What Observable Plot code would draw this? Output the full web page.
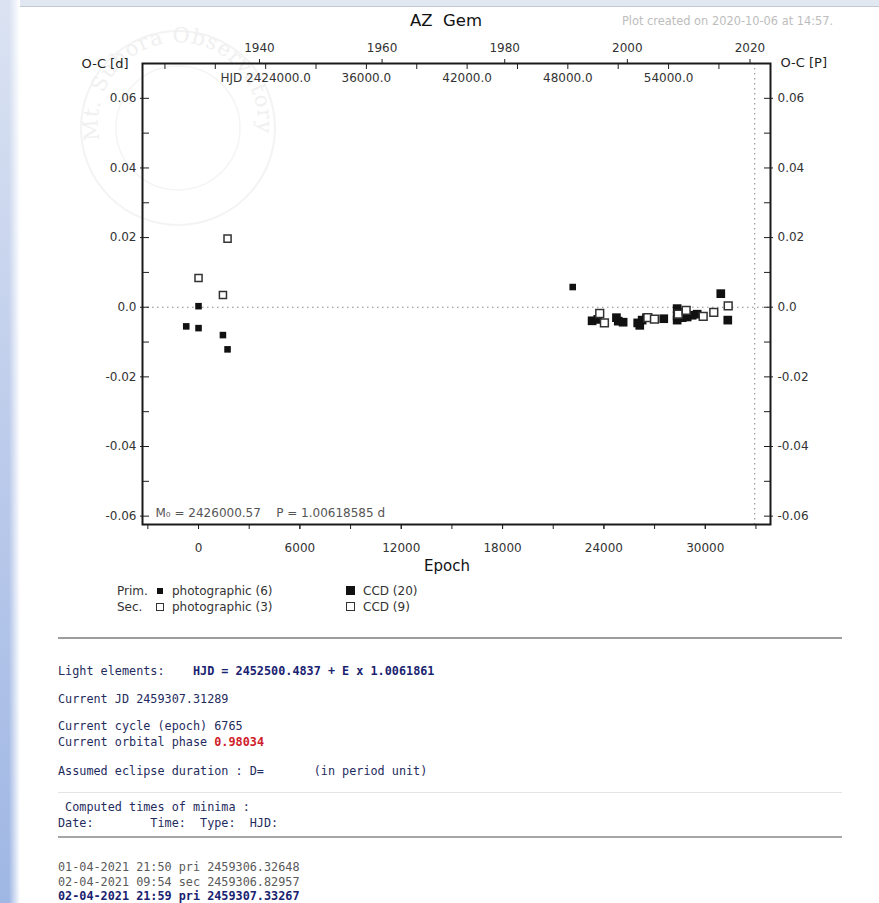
<!DOCTYPE html>
<html>
<head>
<meta charset="utf-8">
<script src="https://cdn.jsdelivr.net/npm/d3@7"></script>
<script src="https://cdn.jsdelivr.net/npm/@observablehq/plot@0.6"></script>
<style>
  html, body { margin: 0; padding: 0; }
  body { width: 879px; height: 903px; overflow: hidden; position: relative; background: #fff; font-family: "DejaVu Sans", sans-serif; }
  .abs { position: absolute; }
  #topbar { left: 0; top: 0; width: 879px; height: 6px; background: #e2e8f1; border-bottom: 1px solid #c3c9d2; }
  #leftbar { left: 0; top: 0; width: 20px; height: 903px;
    background: linear-gradient(to right, rgba(255,255,255,0) 0px, rgba(255,255,255,0) 9px, #fff 20px),
                linear-gradient(to bottom, #dbe3f2 0%, #bccbeb 50%, #9fb7e4 100%); }
  #chart { left: 0; top: 0; }
  .title { left: 0; width: 892px; text-align: center; top: 12px; font-size: 16.5px; line-height: 17px; color: #111; white-space: pre; }
  .created { left: 622px; top: 15px; font-size: 11.4px; line-height: 12px; color: #bdbdbd; white-space: pre; }
  .epoch { left: 0; width: 894px; text-align: center; top: 558px; font-size: 15px; line-height: 16px; color: #111; }
  .leg { font-size: 12px; line-height: 13px; color: #333; white-space: pre; }
  .sq { position: absolute; box-sizing: border-box; }
  .mono { left: 58px; font-family: "DejaVu Sans Mono", monospace; font-size: 11.8px; line-height: 14px; color: #1f2c5e; white-space: pre; }
  .nv { color: #1a2370; font-weight: bold; }
  .red { color: #d0202a; font-weight: bold; }
  .gray { color: #5a5a5a; }
  .hr { left: 58px; width: 784px; }
</style>
</head>
<body>
<div id="topbar" class="abs"></div>
<div id="leftbar" class="abs"></div>

<svg class="abs" style="left:68px;top:18px;overflow:visible" width="220" height="220" viewBox="0 0 220 220">
  <defs><path id="wmArc" d="M 32,122 A 80,80 0 1,1 188,122"/></defs>
  <circle cx="110" cy="110" r="97" fill="none" stroke="#f3f3f3" stroke-width="2"/>
  <circle cx="110" cy="110" r="62" fill="none" stroke="#f4f4f4" stroke-width="1.5"/>
  <text font-family="DejaVu Serif, serif" font-size="21" fill="#f0f0f0" letter-spacing="1"><textPath href="#wmArc">Mt. Suhora Observatory</textPath></text>
</svg>

<div id="chart" class="abs"></div>

<div class="abs title">AZ  Gem</div>
<div class="abs created">Plot created on 2020-10-06 at 14:57.</div>
<div class="abs epoch">Epoch</div>

<div class="abs leg" style="left:117px;top:585px">Prim.</div>
<div class="sq" style="left:157px;top:588px;width:6px;height:6px;background:#111"></div>
<div class="abs leg" style="left:172px;top:585px">photographic (6)</div>
<div class="sq" style="left:346px;top:586px;width:9px;height:9px;background:#111"></div>
<div class="abs leg" style="left:363px;top:585px">CCD (20)</div>
<div class="abs leg" style="left:117px;top:601px">Sec.</div>
<div class="sq" style="left:156px;top:603px;width:8px;height:8px;border:1.5px solid #333;background:#fff"></div>
<div class="abs leg" style="left:172px;top:601px">photographic (3)</div>
<div class="sq" style="left:346px;top:602px;width:9px;height:9px;border:1.5px solid #333;background:#fff"></div>
<div class="abs leg" style="left:363px;top:601px">CCD (9)</div>

<div class="abs hr" style="top:637px;height:2px;background:#9d9d9d"></div>
<div class="abs mono" style="top:664px">Light elements:    <span class="nv">HJD = 2452500.4837 + E x 1.0061861</span></div>
<div class="abs mono" style="top:692px">Current JD 2459307.31289</div>
<div class="abs mono" style="top:719px">Current cycle (epoch) 6765</div>
<div class="abs mono" style="top:735px">Current orbital phase <span class="red">0.98034</span></div>
<div class="abs mono" style="top:764px">Assumed eclipse duration : D=       (in period unit)</div>
<div class="abs hr" style="top:792px;height:1px;background:#e4e4e4"></div>
<div class="abs mono" style="top:800px"> Computed times of minima :</div>
<div class="abs mono" style="top:816px">Date:        Time:  Type:  HJD:</div>
<div class="abs hr" style="top:836px;height:2px;background:#a5a5a5"></div>
<div class="abs mono gray" style="top:861px;line-height:13px">01-04-2021 21:50 pri 2459306.32648</div>
<div class="abs mono gray" style="top:876px;line-height:13px">02-04-2021 09:54 sec 2459306.82957</div>
<div class="abs mono nv" style="top:890px;line-height:12px">02-04-2021 21:59 pri 2459307.33267</div>

<script>
// ---- data ----
const M0 = 2426000.57;
const P = 1.00618585;

const primPhotoEpoch = [-728, 0, 0, 1445, 1718, 22152];
const primPhotoOC    = [-0.0055, 0.0003, -0.0060, -0.0080, -0.0121, 0.0058];

const secPhotoEpoch  = [0, 1445, 1718];
const secPhotoOC     = [0.0084, 0.0035, 0.0197];

const primCcdEpoch = [23301, 23633, 24741, 24850, 25137, 26000, 26121, 26263, 26518, 27543,
                      28336, 28336, 28336, 28500, 28632, 28928, 29225, 29521, 30919, 31333];
const primCcdOC    = [-0.0039, -0.0035, -0.0030, -0.0040, -0.0043, -0.0045, -0.0052, -0.0037, -0.0030, -0.0033,
                      -0.0004, -0.0037, -0.0025, -0.0015, -0.0030, -0.0028, -0.0023, -0.0020, 0.0039, -0.0037];

const secCcdEpoch = [23752, 24030, 26600, 26992, 28400, 28869, 29876, 30504, 31357];
const secCcdOC    = [-0.0018, -0.0045, -0.0030, -0.0034, -0.0020, -0.0009, -0.0026, -0.0015, 0.0004];

// ---- ticks / labels ----
const yMajor  = [-0.06, -0.04, -0.02, 0, 0.02, 0.04, 0.06];
const yLabels = ["-0.06", "-0.04", "-0.02", "0.0", "0.02", "0.04", "0.06"];
const yMinor  = [-0.05, -0.03, -0.01, 0.01, 0.03, 0.05];
const epochMajor = [0, 6000, 12000, 18000, 24000, 30000];
const epochMinor = [-3000, 3000, 9000, 15000, 21000, 27000, 33000];
const years = [1940, 1960, 1980, 2000, 2020];
const hjdLabelValues = [2430000, 2436000, 2442000, 2448000, 2454000];
const hjdLabels = ["HJD 2424000.0", "36000.0", "42000.0", "48000.0", "54000.0"];
const hjdTickValues = [2424000, 2427000, 2430000, 2433000, 2436000, 2439000, 2442000, 2445000, 2448000, 2451000, 2454000, 2457000];
const plotCreatedJD = 2459128.6;
const xDomain = [-3317, 33862];
const yDomain = [-0.0624, 0.0700];

// ---- derived ----
const toRows = (E, O) => E.map((e, i) => ({epoch: e, oc: O[i]}));
const primPhoto = toRows(primPhotoEpoch, primPhotoOC);
const secPhoto = toRows(secPhotoEpoch, secPhotoOC);
const primCcd = toRows(primCcdEpoch, primCcdOC);
const secCcd = toRows(secCcdEpoch, secCcdOC);

const jdToEpoch = jd => (jd - M0) / P;
const yearToEpoch = y => jdToEpoch(2451545.0 + (y - 2000) * 365.25);
const yLabelMap = new Map(yMajor.map((v, i) => [v, yLabels[i]]));
const yearEpochs = years.map(yearToEpoch);
const yearMap = new Map(yearEpochs.map((e, i) => [e, String(years[i])]));
const hjdLabelEpochs = hjdLabelValues.map(jdToEpoch);
const hjdMap = new Map(hjdLabelEpochs.map((e, i) => [e, hjdLabels[i]]));
const hjdTickEpochs = hjdTickValues.map(jdToEpoch);
const fmtInt = d3.format("d");

const tickStroke = "#1e1e1e";
const labelFill = "#333";

const chart = Plot.plot({
  width: 879,
  height: 620,
  marginLeft: 142,
  marginRight: 109,
  marginTop: 63,
  marginBottom: 96,
  x: {domain: xDomain},
  y: {domain: yDomain},
  style: {fontFamily: "DejaVu Sans", fontSize: "12px", color: "#222", background: "transparent", overflow: "visible"},
  marks: [
    Plot.ruleY([0], {stroke: "#8a8a8a", strokeWidth: 1.2, strokeDasharray: "1.5,3.5"}),
    Plot.ruleX([jdToEpoch(plotCreatedJD)], {stroke: "#9a9a9a", strokeWidth: 1.2, strokeDasharray: "1.5,3.5"}),

    // left axis
    Plot.axisY(yMajor, {anchor: "left", tickSize: 2, tickPadding: 4, tickFormat: d => yLabelMap.get(d), label: null, stroke: tickStroke, fill: labelFill, fontSize: 12}),
    Plot.axisY(yMajor.concat(yMinor), {anchor: "left", tickSize: -7, label: null, stroke: tickStroke, fill: "none"}),
    // right axis
    Plot.axisY(yMajor, {anchor: "right", tickSize: 2, tickPadding: 5, tickFormat: d => yLabelMap.get(d), label: null, stroke: tickStroke, fill: labelFill, fontSize: 12}),
    Plot.axisY(yMajor.concat(yMinor), {anchor: "right", tickSize: -7, label: null, stroke: tickStroke, fill: "none"}),
    // bottom axis
    Plot.axisX(epochMajor.concat(epochMinor), {anchor: "bottom", tickSize: 5, label: null, stroke: tickStroke, fill: "none"}),
    Plot.axisX(epochMajor, {anchor: "bottom", tickSize: 5, tickPadding: 14, tickFormat: d => fmtInt(d), label: null, stroke: tickStroke, fill: labelFill, fontSize: 12}),
    // top: years (outside)
    Plot.axisX(yearEpochs, {anchor: "top", tickSize: 5, tickPadding: 7, tickFormat: d => yearMap.get(d), label: null, stroke: tickStroke, fill: labelFill, fontSize: 12}),
    // top: HJD ticks and labels (inside)
    Plot.axisX(hjdTickEpochs, {anchor: "top", tickSize: -5, label: null, stroke: tickStroke, fill: "none"}),
    Plot.axisX(hjdLabelEpochs, {anchor: "top", tickSize: 0, tickPadding: -18, tickFormat: d => hjdMap.get(d), label: null, fill: labelFill, fontSize: 12}),

    Plot.frame({stroke: "#1a1a1a", strokeWidth: 2}),

    // axis titles and elements note
    Plot.text(["O-C [d]"], {frameAnchor: "top-left", dx: -14, dy: 0, textAnchor: "end", lineAnchor: "middle", fontSize: 13, fill: "#222"}),
    Plot.text(["O-C [P]"], {frameAnchor: "top-right", dx: 10, dy: -1, textAnchor: "start", lineAnchor: "middle", fontSize: 13, fill: "#222"}),
    Plot.text(["M\u2080 = 2426000.57\u00a0\u00a0\u00a0\u00a0P = 1.00618585 d"], {frameAnchor: "bottom-left", dx: 13, dy: -8, textAnchor: "start", lineAnchor: "bottom", fontSize: 12, fill: "#555"}),

    // data
    Plot.dot(primPhoto, {x: "epoch", y: "oc", symbol: "square", r: 3.7, fill: "#111", stroke: null}),
    Plot.dot(primCcd, {x: "epoch", y: "oc", symbol: "square", r: 4.9, fill: "#111", stroke: null}),
    Plot.dot(secPhoto, {x: "epoch", y: "oc", symbol: "square", r: 4.0, fill: "#fff", stroke: "#333", strokeWidth: 1.5}),
    Plot.dot(secCcd, {x: "epoch", y: "oc", symbol: "square", r: 4.4, fill: "#fff", stroke: "#333", strokeWidth: 1.5})
  ]
});
document.getElementById("chart").appendChild(chart);
</script>
</body>
</html>
